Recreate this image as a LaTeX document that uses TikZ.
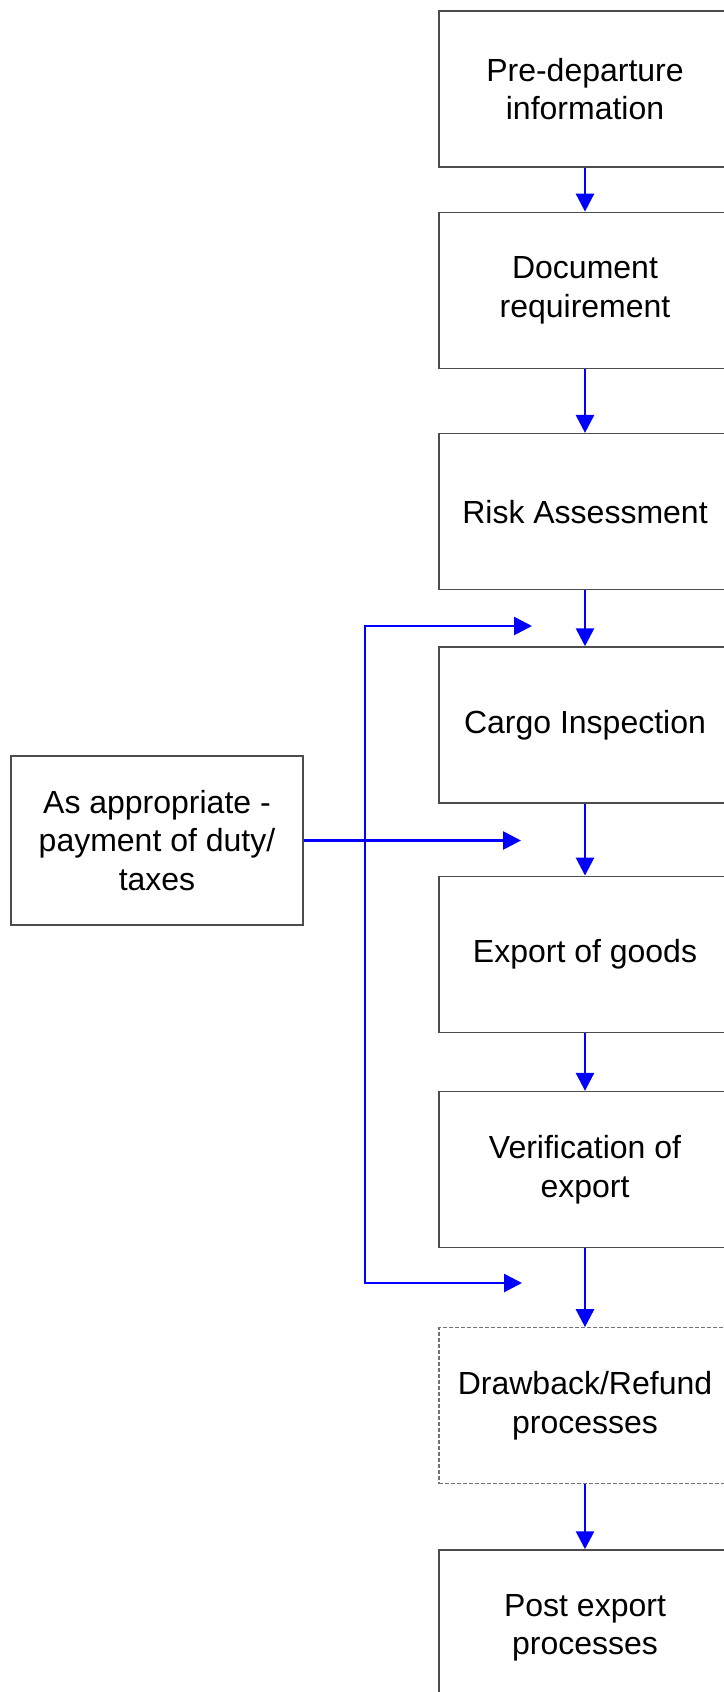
\documentclass[tikz,border=0pt]{standalone}
\usepackage{fontspec}
\setmainfont{Liberation Sans}
\usetikzlibrary{arrows.meta, positioning}

\begin{document}
\begin{tikzpicture}[x=1pt, y=-1pt, node distance=60pt,
  every node/.style={font=\fontsize{32}{38.5}\selectfont, align=center},
  stepbox/.style={rectangle, draw=black!70, line width=1.3pt, minimum width=292pt, minimum height=156pt, inner sep=0pt},
  optbox/.style={stepbox, draw=black!55, line width=1.1pt, dash pattern=on 4pt off 2pt},
  flow/.style={draw=blue, line width=2.7pt, -{Triangle[length=18pt,width=18pt]}}]
  \useasboundingbox (0,0) rectangle (723,1692);

  % Main flow
  \node (pre) [stepbox] at (585,89) {Pre-departure\\information};
  \node (doc) [stepbox, below=44pt of pre] {Document\\requirement};
  \node (risk) [stepbox, below=64pt of doc] {Risk Assessment};
  \node (cargo) [stepbox, below=56pt of risk] {Cargo Inspection};
  \node (export) [stepbox, below=72pt of cargo] {Export of goods};
  \node (verif) [stepbox, below=58pt of export] {Verification of\\export};
  \node (refund) [optbox, below=79pt of verif] {Drawback/Refund\\processes};
  \node (post) [stepbox, below=65pt of refund] {Post export\\processes};

  % Side box
  \node (duty) [stepbox, minimum height=169pt] at (157,840.5) {As appropriate -\\payment of duty/\\taxes};

  % Main vertical
  \draw[flow] (pre) -- (doc);
  \draw[flow] (doc) -- (risk);
  \draw[flow] (risk) -- (cargo);
  \draw[flow] (cargo) -- (export);
  \draw[flow] (export) -- (verif);
  \draw[flow] (verif) -- (refund);
  \draw[flow] (refund) -- (post);

  % Duty branches
  \coordinate (bus) at (365,840.5);
  \coordinate (uptip) at (532,626);
  \coordinate (midtip) at (521,840.5);
  \coordinate (lowtip) at (522,1283);
  \draw[flow] (duty.east) -- (midtip);
  \draw[flow] (bus) |- (uptip);
  \draw[flow] (bus) |- (lowtip);
\end{tikzpicture}
\end{document}
